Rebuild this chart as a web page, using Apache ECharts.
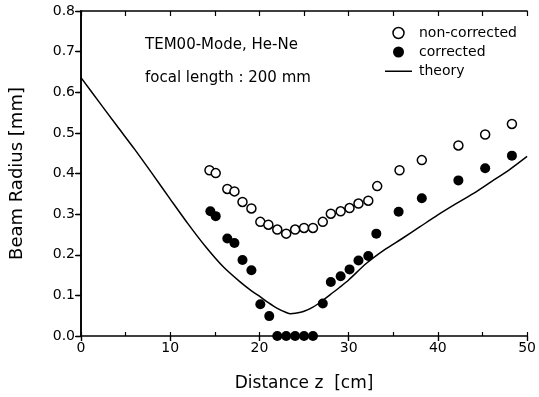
<!DOCTYPE html>
<html>
<head>
<meta charset="utf-8">
<script src="https://cdn.jsdelivr.net/npm/echarts@6/dist/echarts.min.js"></script>
<style>
  html, body { margin: 0; padding: 0; background: #fff; }
  #chart { width: 539px; height: 397px; }
</style>
</head>
<body>
<div id="chart"></div>
<script>
// Beam radius of a focused TEM00 He-Ne beam versus distance z
const nonCorrectedZ = [14.4, 15.1, 16.4, 17.2, 18.1, 19.1, 20.1, 21.0, 22.0, 23.0, 24.0, 25.0, 26.0, 27.1, 28.0, 29.1, 30.1, 31.1, 32.2, 33.2, 35.7, 38.2, 42.3, 45.3, 48.3];
const nonCorrectedR = [0.408, 0.401, 0.362, 0.356, 0.330, 0.314, 0.281, 0.274, 0.262, 0.252, 0.262, 0.266, 0.266, 0.281, 0.301, 0.307, 0.315, 0.326, 0.333, 0.369, 0.408, 0.433, 0.469, 0.496, 0.522];

const correctedZ = [14.5, 15.1, 16.4, 17.2, 18.1, 19.1, 20.1, 21.1, 22.0, 23.0, 24.0, 25.0, 26.0, 27.1, 28.0, 29.1, 30.1, 31.1, 32.2, 33.1, 35.6, 38.2, 42.3, 45.3, 48.3];
const correctedR = [0.307, 0.295, 0.240, 0.229, 0.187, 0.162, 0.078, 0.049, 0, 0, 0, 0, 0, 0.080, 0.133, 0.147, 0.164, 0.186, 0.197, 0.252, 0.306, 0.339, 0.383, 0.413, 0.444];

const theoryZ = [0, 2, 4, 6, 8, 10, 12, 14, 16, 18, 19, 20, 21, 22, 23, 23.5, 24, 25, 26, 27, 28, 29, 30, 32, 34, 36, 38, 40, 42, 44, 46, 48, 50];
const theoryR = [0.636, 0.577, 0.518, 0.460, 0.399, 0.337, 0.276, 0.219, 0.169, 0.130, 0.113, 0.098, 0.082, 0.068, 0.058, 0.055, 0.056, 0.061, 0.071, 0.086, 0.103, 0.120, 0.138, 0.179, 0.212, 0.240, 0.269, 0.298, 0.325, 0.351, 0.380, 0.409, 0.442];

const xTicks = { min: 0, max: 50, step: 10 };
const yTicks = { min: 0, max: 0.8, step: 0.1 };

const pairs = (xs, ys) => xs.map((x, i) => [x, ys[i]]);

const FONT = 'DejaVu Sans';
const INK = '#000';

const chart = echarts.init(document.getElementById('chart'), null, { renderer: 'canvas' });

const axisBase = {
  type: 'value',
  splitLine: { show: false },
  axisLine: { show: true, lineStyle: { color: INK, width: 1.6 } },
  axisTick: { show: true, lineStyle: { color: INK, width: 1.4 } }
};

chart.setOption({
  backgroundColor: '#fff',
  animation: false,
  grid: { left: 78, right: 9, top: 11, bottom: 60 },
  xAxis: [
    Object.assign({}, axisBase, {
      position: 'bottom',
      min: xTicks.min, max: xTicks.max, interval: xTicks.step,
      axisTick: { show: true, length: 5, inside: false, lineStyle: { color: INK, width: 1.4 } },
      axisLabel: { color: INK, fontFamily: FONT, fontSize: 14, margin: 5 },
      name: 'Distance z  [cm]',
      nameLocation: 'middle',
      nameGap: 39,
      nameTextStyle: { color: INK, fontFamily: FONT, fontSize: 17 }
    }),
    Object.assign({}, axisBase, {
      position: 'bottom',
      min: xTicks.min, max: xTicks.max, interval: xTicks.step / 2,
      axisLine: { show: false },
      axisTick: { show: true, length: 4, inside: true, lineStyle: { color: INK, width: 1.2 } },
      axisLabel: { show: false }
    }),
    Object.assign({}, axisBase, {
      position: 'top',
      min: xTicks.min, max: xTicks.max, interval: xTicks.step / 2,
      axisTick: { show: true, length: 5, inside: true, lineStyle: { color: INK, width: 1.2 } },
      axisLabel: { show: false }
    })
  ],
  yAxis: [
    Object.assign({}, axisBase, {
      position: 'left',
      min: yTicks.min, max: yTicks.max, interval: yTicks.step,
      axisTick: { show: true, length: 5, inside: false, lineStyle: { color: INK, width: 1.4 } },
      axisLabel: {
        color: INK, fontFamily: FONT, fontSize: 14, margin: 6,
        formatter: v => v.toFixed(1)
      },
      name: 'Beam Radius [mm]',
      nameLocation: 'middle',
      nameGap: 55,
      nameTextStyle: { color: INK, fontFamily: FONT, fontSize: 18 }
    }),
    Object.assign({}, axisBase, {
      position: 'right',
      min: yTicks.min, max: yTicks.max, interval: yTicks.step,
      axisTick: { show: true, length: 6, inside: true, lineStyle: { color: INK, width: 1.2 } },
      axisLabel: { show: false }
    })
  ],
  legend: {
    orient: 'vertical',
    left: 380,
    top: 21,
    itemWidth: 27,
    itemHeight: 11,
    itemGap: 5,
    textStyle: { color: INK, fontFamily: FONT, fontSize: 14, padding: [0, 0, 0, 2] },
    data: [
      { name: 'non-corrected', icon: 'circle', itemStyle: { color: '#fff', borderColor: INK, borderWidth: 1.5, opacity: 1 } },
      { name: 'corrected', icon: 'circle', itemStyle: { color: INK, borderWidth: 0, opacity: 1 } },
      {
        name: 'theory',
        icon: 'path://M0,0M0,5L27,5L27,6.5L0,6.5ZM27,11',
        itemStyle: { color: INK, borderWidth: 0, opacity: 1 }
      }
    ]
  },
  graphic: [
    {
      type: 'text', left: 145, top: 38,
      style: { text: 'TEM00-Mode, He-Ne', fill: INK, font: '15px "' + FONT + '"' }
    },
    {
      type: 'text', left: 145, top: 71,
      style: { text: 'focal length : 200 mm', fill: INK, font: '15px "' + FONT + '"' }
    }
  ],
  series: [
    {
      name: 'theory',
      type: 'line',
      xAxisIndex: 0, yAxisIndex: 0,
      data: pairs(theoryZ, theoryR),
      smooth: 0.3,
      symbol: 'none',
      itemStyle: { color: INK },
      lineStyle: { color: INK, width: 1.5 },
      z: 2
    },
    {
      name: 'non-corrected',
      type: 'scatter',
      xAxisIndex: 0, yAxisIndex: 0,
      data: pairs(nonCorrectedZ, nonCorrectedR),
      symbol: 'circle',
      symbolSize: 9,
      itemStyle: { color: '#fff', borderColor: INK, borderWidth: 1.5, opacity: 1 },
      clip: false,
      z: 3
    },
    {
      name: 'corrected',
      type: 'scatter',
      xAxisIndex: 0, yAxisIndex: 0,
      data: pairs(correctedZ, correctedR),
      symbol: 'circle',
      symbolSize: 10,
      itemStyle: { color: INK, opacity: 1 },
      clip: false,
      z: 4
    }
  ]
});
</script>
</body>
</html>
